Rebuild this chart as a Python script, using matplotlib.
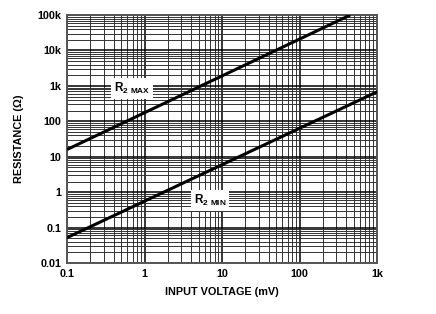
import matplotlib.pyplot as plt
from matplotlib.ticker import LogLocator, FixedLocator

plt.rcParams['font.family'] = ['Liberation Sans', 'DejaVu Sans']
plt.rcParams['font.weight'] = 'bold'
plt.rcParams['mathtext.fontset'] = 'custom'
plt.rcParams['mathtext.bf'] = 'Liberation Sans:bold'
plt.rcParams['mathtext.rm'] = 'Liberation Sans:bold'

# curve end points (log-log straight lines)
v_max = [0.1, 450]
r_max = [16, 100000]
v_min = [0.1, 1000]
r_min = [0.052, 680]

x_ticks = [0.1, 1, 10, 100, 1000]
x_labels = ["0.1", "1", "10", "100", "1k"]
y_ticks = [0.01, 0.1, 1, 10, 100, 1000, 10000, 100000]
y_labels = ["0.01", "0.1", "1", "10", "100", "1k", "10k", "100k"]

fig = plt.figure(figsize=(4.36, 3.14), dpi=100)
ax = fig.add_axes([0.1537, 0.1624, 0.711, 0.7896])

ax.loglog(v_max, r_max, color="black", lw=2.2, solid_capstyle="butt", zorder=3)
ax.loglog(v_min, r_min, color="black", lw=2.2, solid_capstyle="butt", zorder=3)

ax.set_xlim(0.1, 1000)
ax.set_ylim(0.01, 100000)

ax.xaxis.set_major_locator(FixedLocator(x_ticks))
ax.yaxis.set_major_locator(FixedLocator(y_ticks))
ax.set_xticklabels(x_labels)
ax.set_yticklabels(y_labels)
ax.xaxis.set_minor_locator(LogLocator(base=10, subs=range(2, 10), numticks=20))
ax.yaxis.set_minor_locator(LogLocator(base=10, subs=range(2, 10), numticks=20))
ax.tick_params(which="both", length=0, labelsize=7.8, pad=4)

ax.grid(which="major", color="black", lw=1.1)
ax.grid(which="minor", color="#333333", lw=0.7)
for s in ax.spines.values():
    s.set_color("#555555")
    s.set_linewidth(1.4)

box = dict(facecolor="white", edgecolor="none", pad=2)
ax.text(0.69, 830, r"R$_{\mathbf{2\ MAX}}$", fontsize=8.5, ha="center", va="center",
        bbox=box, zorder=4)
ax.text(7.0, 0.57, r"R$_{\mathbf{2\ MIN}}$", fontsize=8.5, ha="center", va="center",
        bbox=box, zorder=4)

ax.set_xlabel("INPUT VOLTAGE (mV)", fontsize=7.8, fontweight="bold", labelpad=6)
ax.set_ylabel("RESISTANCE (Ω)", fontsize=7.8, fontweight="bold", labelpad=10)

fig.savefig("out.png", dpi=100)
